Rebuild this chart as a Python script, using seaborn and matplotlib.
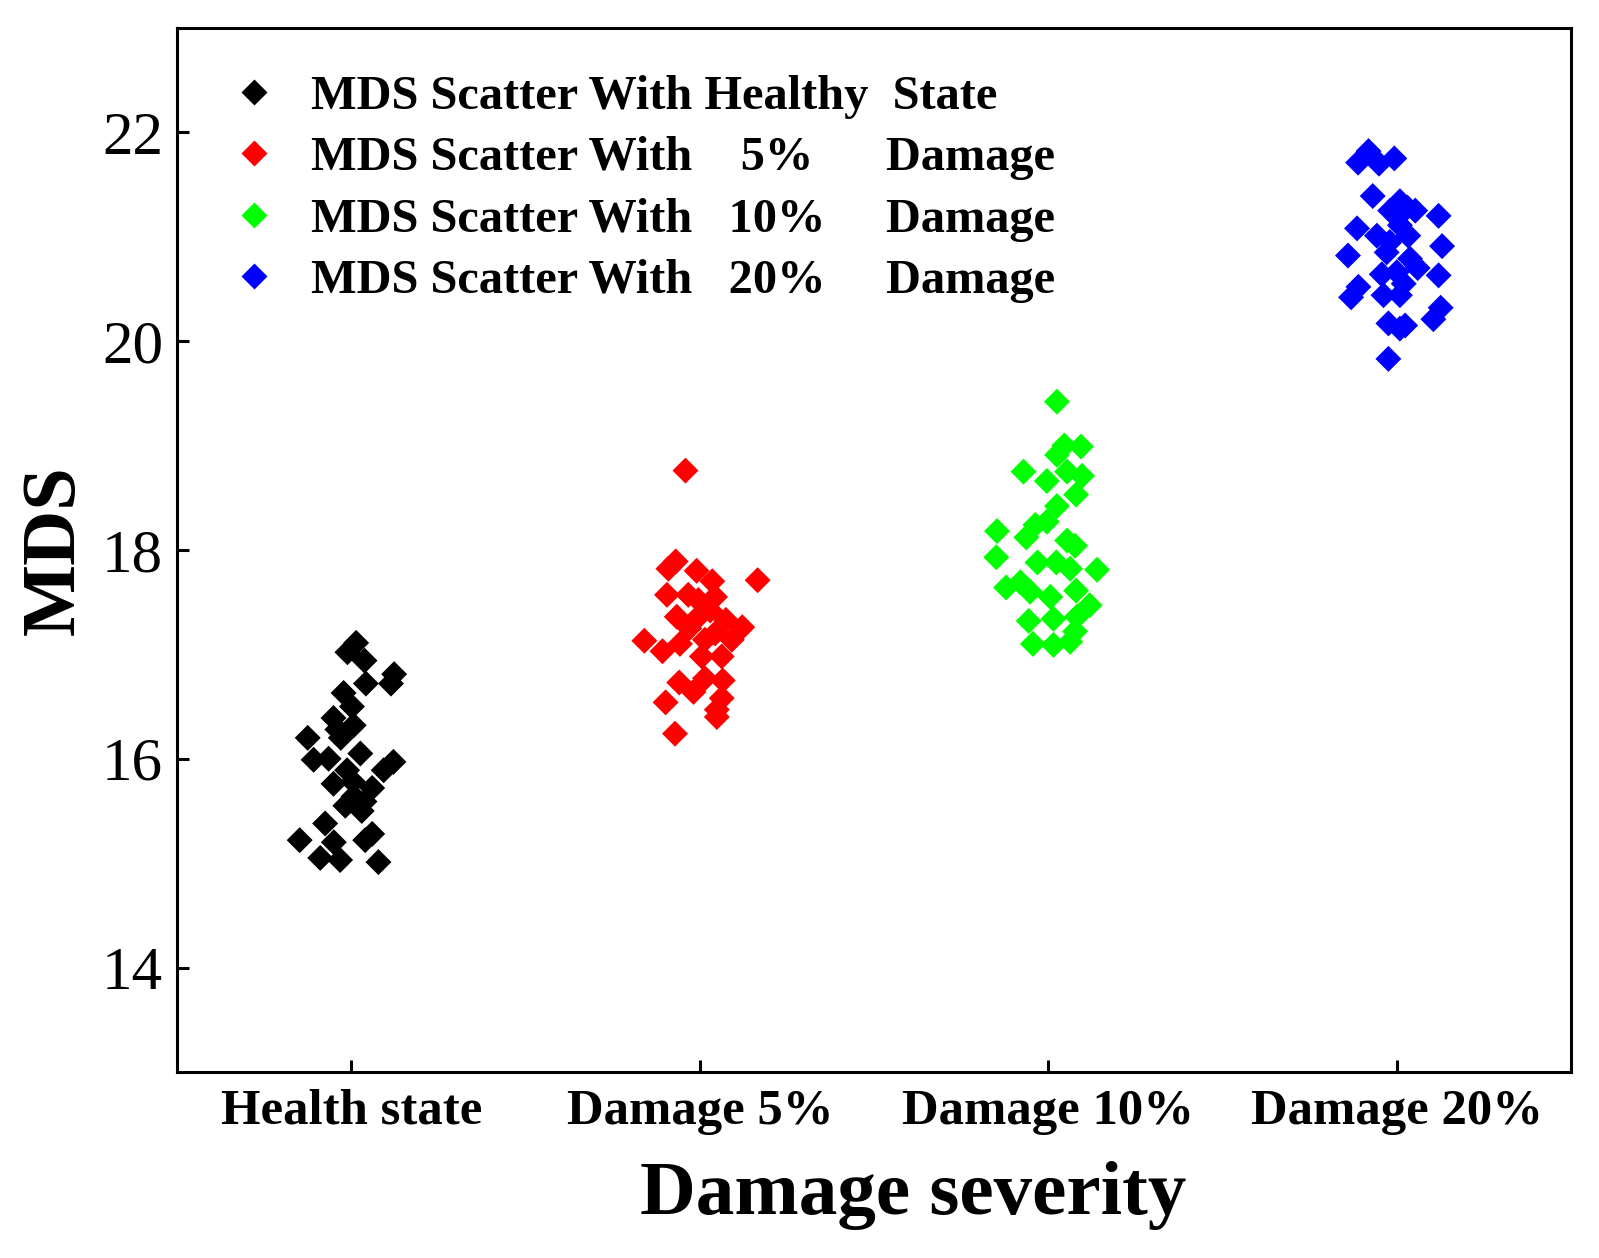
import numpy as np
import pandas as pd
import matplotlib
matplotlib.use("Agg")
import matplotlib.pyplot as plt
import seaborn as sns
from matplotlib.lines import Line2D

categories = ["Health state", "Damage 5%", "Damage 10%", "Damage 20%"]
legend_labels = ["MDS Scatter With Healthy  State",
                 "MDS Scatter With    5%      Damage",
                 "MDS Scatter With   10%     Damage",
                 "MDS Scatter With   20%     Damage"]
colors = ["#000000", "#FF0000", "#00FF00", "#0000FF"]

# horizontal jitter (fraction of category spacing) and MDS values
health_off = [0.014, -0.011, 0.038, 0.042, 0.123, 0.114, -0.022, 0.002, -0.051, 0.007,
              -0.125, -0.108, -0.065, 0.026, -0.012, 0.121, 0.093, -0.051, 0.007, 0.038,
              -0.017, 0.030, -0.148, -0.075, 0.040, 0.060, -0.089, -0.032, 0.078, -0.050,
              0.005, 0.060, -0.030, -0.040]
health_mds = [17.11, 17.02, 16.94, 16.72, 16.81, 16.72, 16.63, 16.50, 16.39, 16.32,
              16.20, 15.99, 16.00, 16.05, 15.89, 15.97, 15.89, 15.76, 15.64, 15.59,
              15.55, 15.50, 15.22, 15.38, 15.22, 15.28, 15.05, 15.03, 15.01, 15.20,
              15.78, 15.72, 16.20, 16.28]

d5_off = [-0.041, -0.069, -0.090, -0.009, 0.036, 0.166, -0.094, 0.044, -0.033, -0.004,
          -0.066, -0.013, 0.075, 0.122, -0.159, -0.107, -0.057, 0.015, 0.044, 0.092,
          0.006, 0.063, -0.059, 0.015, 0.066, -0.018, 0.063, -0.098, 0.049, 0.049,
          -0.071, -0.030, 0.030]
d5_mds = [18.76, 17.89, 17.82, 17.80, 17.70, 17.71, 17.57, 17.55, 17.57, 17.52,
          17.36, 17.33, 17.33, 17.26, 17.13, 17.03, 17.10, 17.14, 17.20, 17.14,
          16.98, 16.98, 16.73, 16.77, 16.75, 16.64, 16.58, 16.54, 16.47, 16.40,
          16.24, 17.25, 17.42]

d10_off = [0.025, 0.046, 0.094, 0.025, -0.071, 0.054, -0.004, 0.097, 0.080, 0.025,
           -0.147, -0.037, -0.004, -0.063, 0.054, 0.077, -0.149, -0.031, 0.023, 0.063,
           0.140, -0.121, -0.080, -0.052, 0.006, 0.080, 0.119, -0.056, 0.015, 0.082,
           0.077, -0.044, 0.015, 0.063]
d10_mds = [19.42, 19.00, 18.99, 18.91, 18.75, 18.75, 18.66, 18.71, 18.53, 18.42,
           18.18, 18.24, 18.27, 18.12, 18.09, 18.04, 17.93, 17.88, 17.88, 17.82,
           17.81, 17.64, 17.69, 17.60, 17.55, 17.61, 17.47, 17.32, 17.34, 17.36,
           17.22, 17.10, 17.09, 17.12]

d20_off = [-0.081, -0.111, -0.051, -0.007, -0.069, 0.009, 0.030, -0.019, 0.053, 0.120,
           -0.114, -0.057, 0.009, 0.033, 0.130, -0.140, -0.029, 0.038, 0.000, -0.043,
           0.060, 0.120, -0.110, -0.131, -0.038, 0.009, 0.126, 0.105, -0.024, 0.009,
           0.024, -0.024, -0.020, 0.020]
d20_mds = [21.82, 21.71, 21.70, 21.75, 21.39, 21.34, 21.28, 21.25, 21.25, 21.20,
           21.08, 21.01, 21.11, 21.01, 20.91, 20.82, 20.85, 20.79, 20.66, 20.64,
           20.70, 20.63, 20.52, 20.42, 20.44, 20.44, 20.32, 20.21, 20.17, 20.12,
           20.15, 19.83, 20.95, 20.55]

offsets = [health_off, d5_off, d10_off, d20_off]
values = [health_mds, d5_mds, d10_mds, d20_mds]

rows = []
for i, (offs, vals) in enumerate(zip(offsets, values)):
    for o, v in zip(offs, vals):
        rows.append({"pos": i + o, "MDS": v, "group": legend_labels[i]})
df = pd.DataFrame(rows)

sns.set_theme(style="white")
plt.rcParams["font.family"] = ["Liberation Serif", "DejaVu Serif"]
plt.rcParams["text.color"] = "black"
plt.rcParams["axes.labelcolor"] = "black"
plt.rcParams["xtick.color"] = "black"
plt.rcParams["ytick.color"] = "black"

fig = plt.figure(figsize=(15.99, 12.58), dpi=100)
ax = fig.add_axes([0.1107, 0.1479, 0.8718, 0.8299])

sns.scatterplot(data=df, x="pos", y="MDS", hue="group", hue_order=legend_labels,
                palette=colors, marker="D", s=175, linewidth=0, edgecolor="none",
                legend=False, ax=ax)

ax.set_xlim(-0.5, 3.5)
ax.set_ylim(13, 23)
ax.set_xticks(range(len(categories)))
ax.set_xticklabels(categories, fontsize=36.5, fontweight="bold")
ax.set_yticks([14, 16, 18, 20, 22])
ax.set_yticklabels(["14", "16", "18", "20", "22"], fontsize=44)
ax.tick_params(axis="both", direction="in", length=8.5, width=2.2, color="black",
               labelcolor="black", bottom=True, left=True, top=False, right=False)
ax.tick_params(axis="y", pad=10)
ax.tick_params(axis="x", pad=12)
for sp in ax.spines.values():
    sp.set_visible(True)
    sp.set_color("black")
    sp.set_linewidth(2.2)

ax.set_xlabel("Damage severity", fontsize=55.5, fontweight="bold", labelpad=22,
              color="black")
ax.xaxis.set_label_coords(0.528, -0.085)
ax.set_ylabel("MDS", fontsize=55, fontweight="bold", labelpad=9, color="black")

handles = [Line2D([], [], linestyle="none", marker="D", markersize=13.2,
                  markerfacecolor=c, markeredgecolor="none") for c in colors]
leg = ax.legend(handles, legend_labels, loc="upper left", bbox_to_anchor=(0.0, 1.006),
                frameon=False,
                prop={"family": "Liberation Serif", "weight": "bold", "size": 34.8},
                handlelength=1.0, handletextpad=0.68, borderaxespad=0.7,
                borderpad=0.4, labelspacing=0.36)
for t in leg.get_texts():
    t.set_color("black")

fig.savefig("out.png", dpi=100)
